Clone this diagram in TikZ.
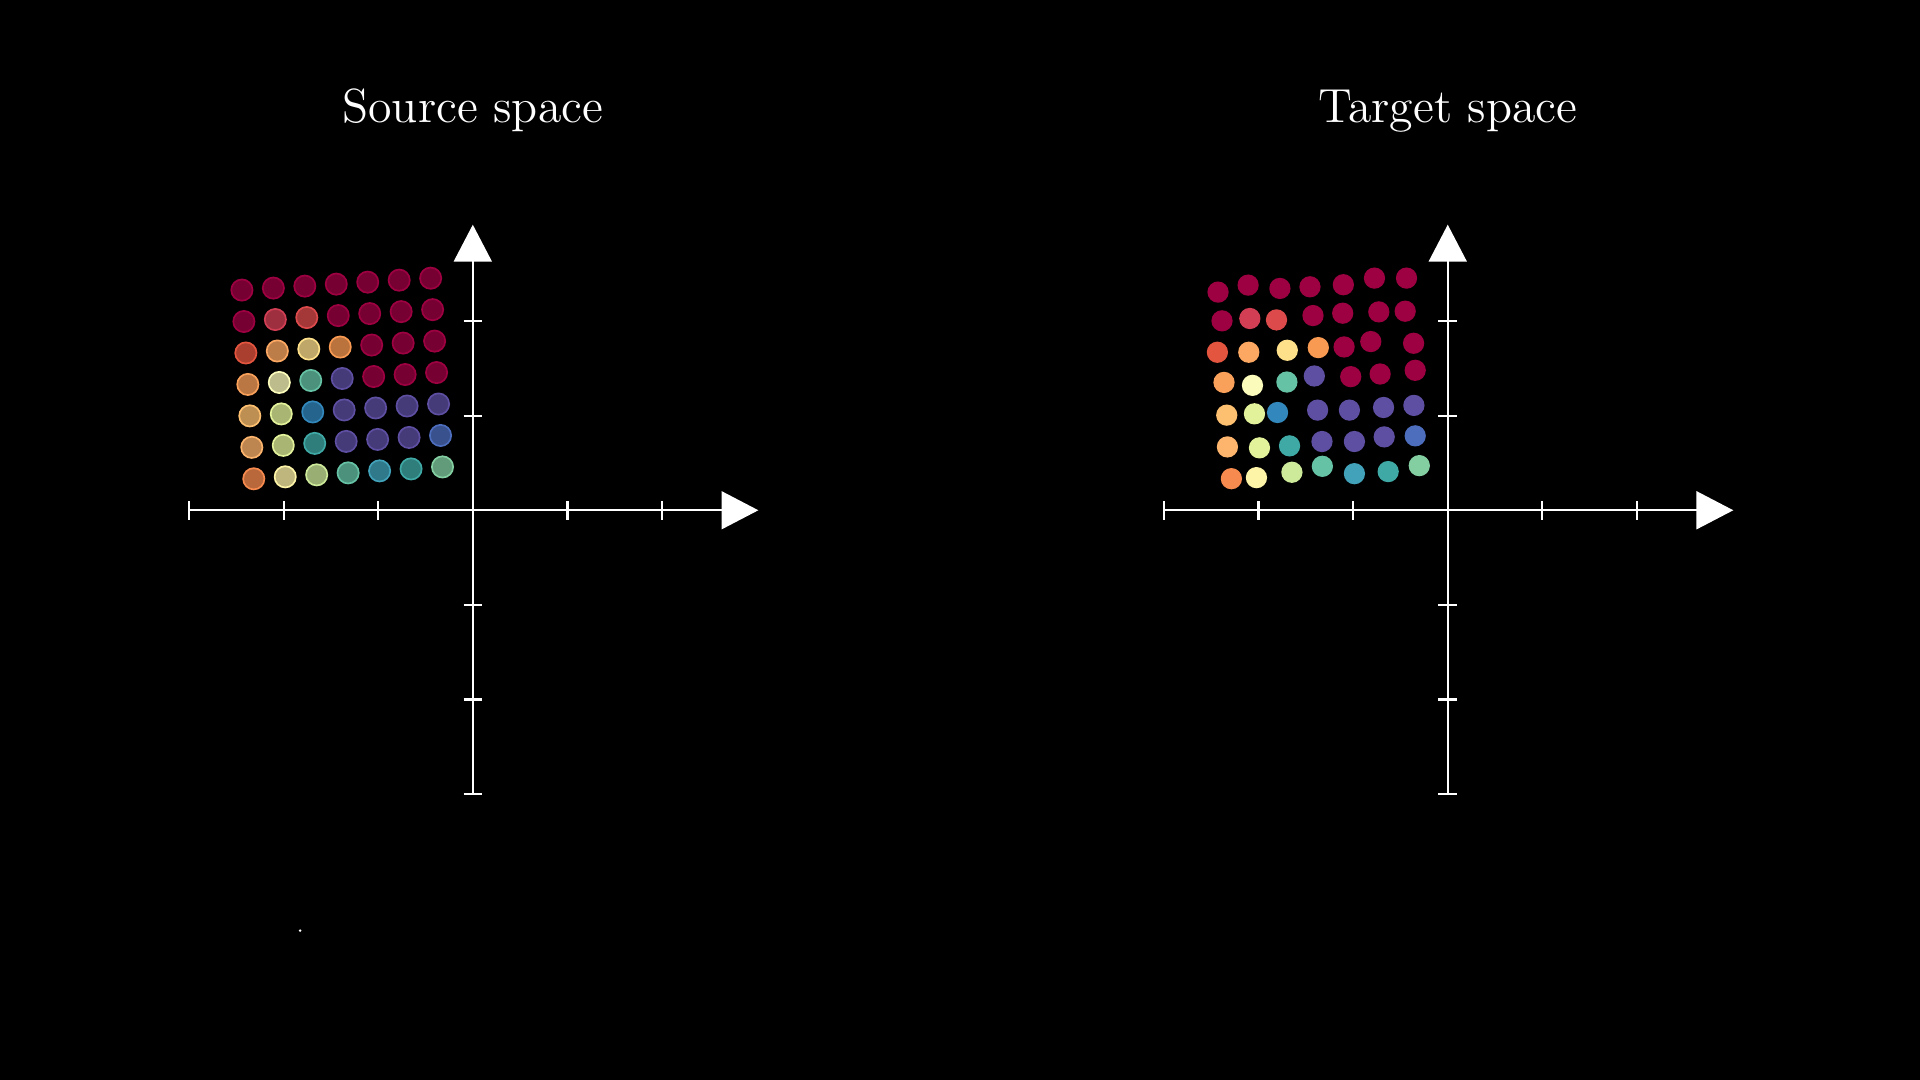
\documentclass[tikz,border=0pt]{standalone}
\usepackage{tikz}
\usetikzlibrary{arrows.meta}

\definecolor{cA}{HTML}{9E0142}
\definecolor{cB}{HTML}{D23F55}
\definecolor{cC}{HTML}{DC4A4C}
\definecolor{cR}{HTML}{E4553F}
\definecolor{cD}{HTML}{F78B4F}
\definecolor{cE}{HTML}{FCA862}
\definecolor{cU}{HTML}{F9A05A}
\definecolor{cP}{HTML}{F99A52}
\definecolor{cF}{HTML}{FDBF70}
\definecolor{cV}{HTML}{FDB46C}
\definecolor{cG}{HTML}{FEE08B}
\definecolor{cY}{HTML}{FEF4A8}
\definecolor{cH}{HTML}{FBFBBC}
\definecolor{cI}{HTML}{E2F29A}
\definecolor{cZ}{HTML}{CDE99A}
\definecolor{cQ}{HTML}{84CFA2}
\definecolor{cK}{HTML}{66C2A5}
\definecolor{cN}{HTML}{3FA9A6}
\definecolor{cT}{HTML}{41A2BA}
\definecolor{cL}{HTML}{3288BD}
\definecolor{cO}{HTML}{4D6DBD}
\definecolor{cM}{HTML}{5E4FA2}

\begin{document}
\begin{tikzpicture}[axis/.style = {white, line width=0.7pt, -{Triangle[length=0.39cm, width=0.4cm]}},
    tick/.style = {white, line width=0.7pt},
    srcdot/.style = {circle, inner sep=0pt, minimum size=0.225cm, draw=#1, fill=#1, fill opacity=0.75, line width=0.5pt},
    tgtdot/.style = {circle, inner sep=0pt, minimum size=0.225cm, fill=#1},
    title/.style = {white, font=\fontsize{14.4}{17}\selectfont, anchor=base}]
    \fill[black] (-5,-6.024) rectangle (15.304,5.396);
    \useasboundingbox (-5,-6.024) rectangle (15.304,5.396);

    \node[title] (srctitle) at (0,4.10) {Source space};
    \node[title] (tgttitle) at (10.31,4.10) {Target space};

    \foreach \ox/\nm in {0/src, 10.31/tgt} {
        \coordinate (\nm-x0) at (\ox-3,0);
        \coordinate (\nm-x1) at (\ox+3.02,0);
        \coordinate (\nm-y0) at (\ox,-3);
        \coordinate (\nm-y1) at (\ox,3.02);
        \draw[axis] (\nm-x0) -- (\nm-x1);
        \draw[axis] (\nm-y0) -- (\nm-y1);
        \foreach \t in {-3,-2,-1,1,2} {
            \draw[tick] (\ox+\t,-0.098) -- (\ox+\t,0.098);
            \draw[tick] (\ox-0.098,\t) -- (\ox+0.098,\t);
        }
    }

    \begin{scope}[shift={(-1.381,1.3935)}, rotate=3.6]
        \foreach \row [count=\r] in {{A,A,A,A,A,A,A}, {A,B,C,A,A,A,A}, {R,E,G,P,A,A,A},
            {U,H,K,M,A,A,A}, {F,I,L,M,M,M,M}, {V,I,N,M,M,M,O}, {D,Y,Z,K,T,N,Q}}
            \foreach \c [count=\k] in \row
                \node[srcdot=c\c] (s-\r-\k) at ({(\k-4)/3},{(4-\r)/3}) {};
    \end{scope}

    \begin{scope}[shift={(10.31,0.005)}]
        \foreach \x/\y/\c [count=\i] in {
            -2.429/2.302/A, -2.111/2.376/A, -1.775/2.341/A, -1.457/2.358/A, -1.104/2.380/A, -0.775/2.450/A, -0.436/2.450/A,
            -2.387/1.998/A, -2.093/2.023/B, -1.811/2.008/C, -1.425/2.054/A, -1.111/2.079/A, -0.729/2.093/A, -0.450/2.100/A,
            -2.436/1.666/R, -2.104/1.666/E, -1.697/1.687/G, -1.369/1.715/P, -1.096/1.722/A, -0.814/1.779/A, -0.361/1.761/A,
            -2.366/1.347/U, -2.065/1.316/H, -1.701/1.351/K, -1.411/1.415/M, -1.026/1.408/A, -0.715/1.436/A, -0.344/1.475/A,
            -2.337/1.001/F, -2.044/1.015/I, -1.800/1.029/L, -1.376/1.054/M, -1.040/1.054/M, -0.679/1.082/M, -0.358/1.104/M,
            -2.330/0.665/V, -1.991/0.655/I, -1.673/0.676/N, -1.330/0.722/M, -0.987/0.722/M, -0.672/0.771/M, -0.344/0.782/O,
            -2.288/0.329/D, -2.023/0.340/Y, -1.648/0.397/Z, -1.326/0.460/K, -0.987/0.382/T, -0.630/0.404/N, -0.301/0.467/Q}
            \node[tgtdot=c\c] (t-\i) at (\x,\y) {};
    \end{scope}

    \node[circle, fill=white, inner sep=0pt, minimum size=0.03cm] (speck) at (-1.826,-4.445) {};
\end{tikzpicture}
\end{document}
